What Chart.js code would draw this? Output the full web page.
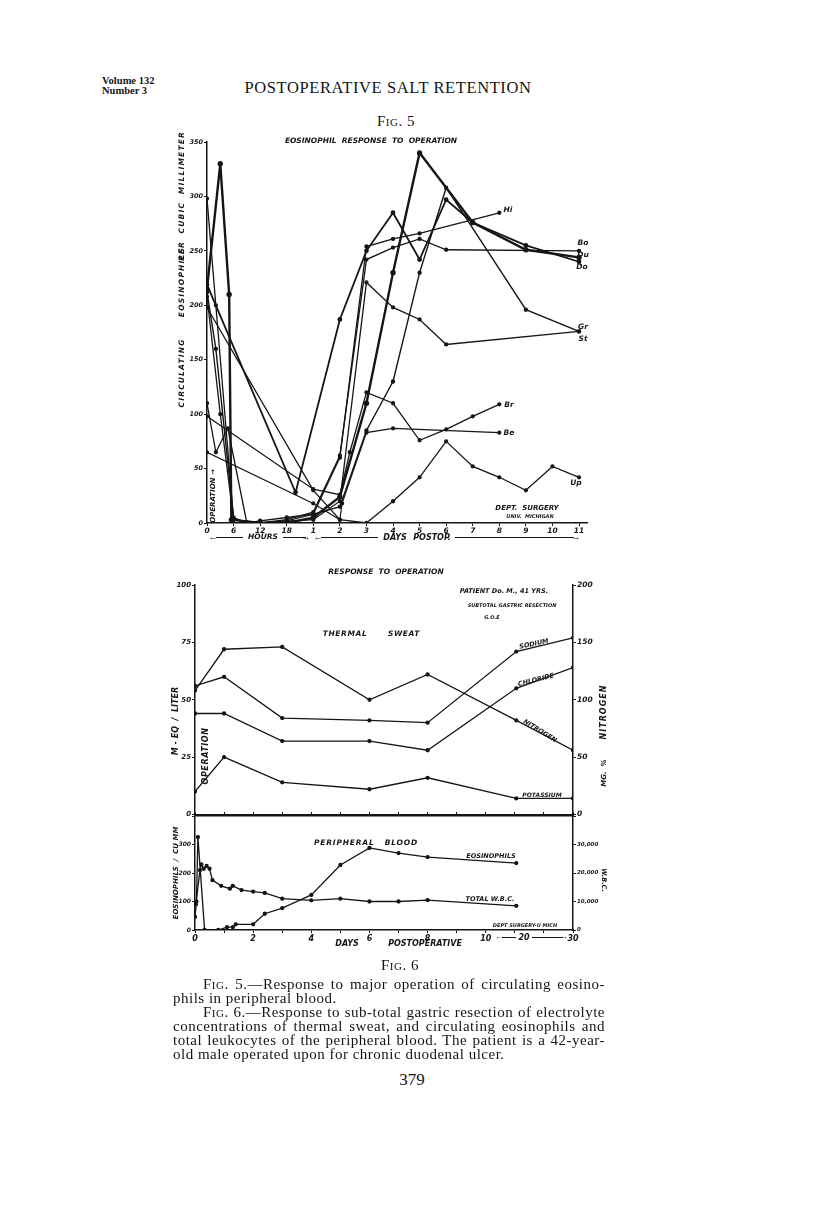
<!DOCTYPE html>
<html>
<head>
<meta charset="utf-8">
<script src="https://cdn.jsdelivr.net/npm/chart.js@4.4.0/dist/chart.umd.min.js"></script>
<style>
body { margin:0; width:816px; height:1205px; background:#fff; position:relative; overflow:hidden; }
canvas { position:absolute; }
.t { position:absolute; white-space:nowrap; line-height:1; color:#151515; }
.ln { position:absolute; background:#151515; height:1px; }
.sc { font-variant:small-caps; }
</style>
</head>
<body>
<canvas id="fig5" width="460" height="420" style="left:150px;top:130px"></canvas>
<canvas id="sweat" width="470" height="250" style="left:150px;top:570px"></canvas>
<canvas id="blood" width="470" height="150" style="left:150px;top:810px"></canvas>
<script>
// Fig 5 - [hours after operation, eosinophils per cu mm]
const hi = [[0,110],[2,65],[4.7,87],[9,0],[12,0],[18,2],[24,8],[48,60],[72,254],[96,261],[120,266],[192,285]];
const bo = [[0,208],[3,100],[6,3],[12,0],[18,3],[24,10],[48,62],[72,242],[96,253],[120,261],[144,251],[264,250]];
const du = [[0,215],[3,330],[5,210],[5.5,3],[12,0],[18,0],[24,5],[48,24],[72,110],[96,230],[120,340],[168,276],[216,251],[264,244]];
const doo = [[0,219],[20,28],[48,187],[72,250],[96,285],[120,242],[144,297],[168,276],[216,255],[264,240]];
const gr = [[0,212],[2,160],[6,5],[9,0],[12,2],[18,5],[24,8],[48,15],[72,85],[96,130],[120,230],[144,308],[216,196],[264,176]];
const st = [[0,298],[2,200],[6,3],[12,0],[24,3],[48,20],[72,221],[96,198],[120,187],[144,164],[264,176]];
const br = [[0,98],[24,31],[48,26],[57,65],[72,120],[96,110],[120,76],[144,86],[168,98],[192,109]];
const be = [[0,65],[24,18],[48,3],[50,18],[72,83],[96,87],[192,83]];
const up = [[0,198],[24,30],[48,3],[72,0],[96,20],[120,42],[144,75],[168,52],[192,42],[216,30],[240,52],[264,42]];
const fig5Ticks = ['0','6','12','18','1','2','3','4','5','6','7','8','9','10','11'];

// Fig 6 - thermal sweat (m-eq/liter, nitrogen mg %)
const sweatDays = [0, 1, 3, 6, 8, 17, 30];
const sodium = [56, 60, 42, 41, 40, 71, 77];
const chloride = [44, 44, 32, 32, 28, 55, 64];
const potassium = [10, 25, 14, 11, 16, 7, 7];
const nitrogen = [108, 144, 146, 100, 122, 82, 56];

// Fig 6 - peripheral blood
const eosDays = [0, 0.05, 0.1, 0.33, 0.8, 1.1, 1.3, 1.4, 2, 2.4, 3, 4, 5, 6, 7, 8, 17];
const eosCount = [46, 100, 326, 0, 0, 10, 10, 20, 20, 57, 77, 123, 228, 288, 270, 256, 235];
const wbcDays = [0.03, 0.17, 0.22, 0.3, 0.4, 0.5, 0.6, 0.9, 1.2, 1.3, 1.6, 2, 2.4, 3, 4, 5, 6, 7, 8, 17];
const wbcCount = [9000, 21000, 23000, 21500, 22500, 21500, 17500, 15500, 14500, 15500, 14000, 13500, 13000, 11000, 10400, 11000, 10000, 10000, 10500, 8500];
const fig6Ticks = ['0','','2','','4','','6','','8','','10','','','30'];

const INK = '#151515';
const G = 'font-family:"DejaVu Sans",sans-serif;font-style:italic;font-weight:bold;';
const S = 'font-family:"Liberation Serif","DejaVu Serif",serif;';

// hours of first day get 6h per step, then one step per day
function pos5(h) { return h <= 24 ? h / 6 : h / 24 + 3; }
// days 10..30 squeezed into 3 steps
function pos6(d) { return d <= 10 ? d : 10 + (d - 10) * 3 / 20; }

function lineSet(pts, width, axis) {
    return {
        data: pts.map(p => ({x: p[0], y: p[1]})),
        borderColor: INK, backgroundColor: INK, borderWidth: width,
        pointRadius: 1.5, pointHoverRadius: 0, tension: 0, fill: false,
        yAxisID: axis || 'y'
    };
}
function zip(xs, ys, conv) { return xs.map((x, i) => [conv(x), ys[i]]); }

function tickFont(size) { return {family: 'DejaVu Sans', size: size, style: 'italic', weight: 'bold'}; }

function yAxis(min, max, step, w, position, size, fmt) {
    return {
        type: 'linear', position: position, min: min, max: max,
        ticks: {stepSize: step, color: INK, font: tickFont(size), padding: 1, callback: fmt || (v => v)},
        grid: {display: true, drawOnChartArea: false, drawTicks: true, tickLength: 3, color: INK, lineWidth: 1},
        border: {display: true, color: INK, width: 1.5},
        afterFit: s => { s.width = w; }
    };
}

const base = {
    responsive: false, animation: false, devicePixelRatio: 1, events: [],
    plugins: {legend: {display: false}, tooltip: {enabled: false}}
};

// ---- Fig 5
const fig5Series = [[hi,1.3],[bo,1.3],[du,2.4],[doo,1.8],[gr,1.4],[st,1.3],[br,1.3],[be,1.2],[up,1.3]];
new Chart(document.getElementById('fig5'), {
    type: 'line',
    data: {datasets: fig5Series.map(s => lineSet(s[0].map(p => [pos5(p[0]), p[1]]), s[1]))},
    options: Object.assign({}, base, {
        layout: {padding: {top: 12, right: 23, left: 0, bottom: 0}},
        scales: {
            x: {
                type: 'linear', min: 0, max: 14.3,
                afterBuildTicks: s => { s.ticks = fig5Ticks.map((_, i) => ({value: i})); },
                ticks: {autoSkip: false, maxRotation: 0, color: INK, font: tickFont(7.5), padding: 1,
                        callback: v => fig5Ticks[v]},
                grid: {display: true, drawOnChartArea: false, drawTicks: true, tickLength: 3, color: INK},
                border: {display: true, color: INK, width: 1.5},
                afterFit: s => { s.height = 27; }
            },
            y: yAxis(0, 350, 50, 57, 'left', 6.5)
        }
    })
});

// ---- Fig 6, thermal sweat
new Chart(document.getElementById('sweat'), {
    type: 'line',
    data: {datasets: [
        lineSet(zip(sweatDays, sodium, pos6), 1.3),
        lineSet(zip(sweatDays, chloride, pos6), 1.3),
        lineSet(zip(sweatDays, potassium, pos6), 1.3),
        lineSet(zip(sweatDays, nitrogen, pos6), 1.3, 'y2')
    ]},
    options: Object.assign({}, base, {
        layout: {padding: {top: 15, right: 0, left: 0, bottom: 4}},
        scales: {
            x: {
                type: 'linear', min: 0, max: 13,
                ticks: {display: false},
                grid: {display: false},
                border: {display: true, color: INK, width: 1.5},
                afterFit: s => { s.height = 0; }
            },
            y: yAxis(0, 100, 25, 45, 'left', 7),
            y2: yAxis(0, 200, 50, 47, 'right', 7.5)
        }
    })
});

// ---- Fig 6, peripheral blood
new Chart(document.getElementById('blood'), {
    type: 'line',
    data: {datasets: [
        lineSet(zip(eosDays, eosCount, pos6), 1.3),
        lineSet(zip(wbcDays, wbcCount, pos6), 1.3, 'y2')
    ]},
    options: Object.assign({}, base, {
        layout: {padding: {top: 0, right: 0, left: 0, bottom: 0}},
        scales: {
            x: {
                type: 'linear', min: 0, max: 13,
                ticks: {stepSize: 1, autoSkip: false, maxRotation: 0, color: INK, font: tickFont(8), padding: 1,
                        callback: v => fig6Ticks[v]},
                grid: {display: true, drawOnChartArea: false, drawTicks: true, tickLength: 3, color: INK},
                border: {display: true, color: INK, width: 1.5},
                afterFit: s => { s.height = 30; }
            },
            xt: {
                type: 'linear', position: 'top', min: 0, max: 13,
                ticks: {display: false, stepSize: 1},
                grid: {display: true, drawOnChartArea: false, drawTicks: true, tickLength: 4, color: INK},
                border: {display: true, color: INK, width: 1.5},
                afterFit: s => { s.height = 6; }
            },
            y: yAxis(0, 400, 100, 45, 'left', 6, v => v === 400 ? '' : v),
            y2: yAxis(0, 40000, 10000, 47, 'right', 5.5, v => v === 40000 ? '' : v.toLocaleString('en-US'))
        }
    })
});

// ---- texts
function put(text, cx, cy, css, rot) {
    const d = document.createElement('div');
    d.className = 't';
    d.textContent = text;
    d.style.cssText += 'left:' + cx + 'px;top:' + cy + 'px;transform:translate(-50%,-50%) rotate(' + (rot || 0) + 'deg);' + (css || '');
    document.body.appendChild(d);
}
function para(html, x, cy, w, css) {
    const d = document.createElement('div');
    d.className = 't';
    d.innerHTML = html;
    d.style.cssText += 'left:' + x + 'px;top:' + (cy - 8) + 'px;' + (w ? 'width:' + w + 'px;text-align:justify;text-align-last:justify;' : '') + css;
    document.body.appendChild(d);
}
function line(x1, x2, y) {
    const d = document.createElement('div');
    d.className = 'ln';
    d.style.left = x1 + 'px'; d.style.top = y + 'px'; d.style.width = (x2 - x1) + 'px';
    document.body.appendChild(d);
}

// header
para('Volume 132', 102, 84, 0, S + 'font-size:10.5px;font-weight:bold;');
para('Number 3', 102, 94, 0, S + 'font-size:10.5px;font-weight:bold;');
put('POSTOPERATIVE SALT RETENTION', 388, 88, S + 'font-size:16.5px;letter-spacing:0.6px;');
put('Fig. 5', 396, 121, S + 'font-size:15px;font-variant:small-caps;letter-spacing:0.5px;');

// fig 5
put('EOSINOPHIL  RESPONSE  TO  OPERATION', 371, 141, G + 'font-size:7.5px;white-space:pre;');
put('CIRCULATING', 182, 373, G + 'font-size:7.5px;letter-spacing:1.2px;', -90);
put('EOSINOPHILS', 182, 282, G + 'font-size:7.5px;letter-spacing:1.2px;', -90);
put('PER  CUBIC  MILLIMETER', 182, 196, G + 'font-size:7.5px;letter-spacing:1.2px;white-space:pre;', -90);
put('OPERATION \u2192', 213, 496, G + 'font-size:7px;', -90);
put('Hi', 508, 210, G + 'font-size:7.5px;');
put('Bo', 583, 243, G + 'font-size:7.5px;');
put('Du', 583, 255, G + 'font-size:7.5px;');
put('Do', 582, 267, G + 'font-size:7.5px;');
put('Gr', 583, 327, G + 'font-size:7.5px;');
put('St', 583, 339, G + 'font-size:7.5px;');
put('Br', 509, 405, G + 'font-size:7.5px;');
put('Be', 509, 433, G + 'font-size:7.5px;');
put('Up', 576, 483, G + 'font-size:7.5px;');
put('DEPT.  SURGERY', 527, 508, G + 'font-size:7px;white-space:pre;');
put('UNIV.  MICHIGAN', 530, 516, G + 'font-size:5px;white-space:pre;');
put('\u2190', 213, 537, 'font-size:9px;');
line(216, 243, 537);
put('HOURS', 263, 537, G + 'font-size:7.5px;');
line(283, 306, 537);
put('\u2192', 306, 537, 'font-size:9px;');
put('\u2190', 318, 537, 'font-size:9px;');
line(321, 378, 537);
put('DAYS', 395, 538, G + 'font-size:8px;');
put('POSTOP.', 432, 538, G + 'font-size:8px;');
line(455, 574, 537);
put('\u2192', 576, 537, 'font-size:9px;');

// fig 6 top
put('RESPONSE  TO  OPERATION', 386, 572, G + 'font-size:7.5px;white-space:pre;');
put('PATIENT Do. M., 41 YRS.', 504, 591, G + 'font-size:6.5px;');
put('SUBTOTAL GASTRIC RESECTION', 512, 605, G + 'font-size:5px;');
put('G.O.E', 492, 617, G + 'font-size:5px;');
put('THERMAL', 345, 634, G + 'font-size:7.5px;letter-spacing:0.6px;');
put('SWEAT', 404, 634, G + 'font-size:7.5px;letter-spacing:0.6px;');
put('SODIUM', 534, 644, G + 'font-size:6.5px;', -12);
put('CHLORIDE', 536, 680, G + 'font-size:6.5px;', -14);
put('NITROGEN', 540, 731, G + 'font-size:6.5px;', 32);
put('POTASSIUM', 542, 795, G + 'font-size:6px;');
put('M - EQ  /  LITER', 176, 721, G + 'font-size:8px;white-space:pre;', -90);
put('OPERATION', 206, 756, G + 'font-size:8px;letter-spacing:0.6px;', -90);
put('NITROGEN', 604, 712, G + 'font-size:8px;letter-spacing:1px;', -90);
put('MG.  %', 604, 773, G + 'font-size:7px;white-space:pre;', -90);

// fig 6 bottom
put('EOSINOPHILS  /  CU MM', 176, 873, G + 'font-size:7px;white-space:pre;', -90);
put('W.B.C.', 604, 880, G + 'font-size:6.5px;', 90);
put('PERIPHERAL   BLOOD', 366, 843, G + 'font-size:7.5px;letter-spacing:0.8px;white-space:pre;');
put('EOSINOPHILS', 491, 856, G + 'font-size:6.5px;');
put('TOTAL W.B.C.', 490, 899, G + 'font-size:6.5px;');
put('DEPT SURGERY-U MICH', 525, 925, G + 'font-size:5px;');
put('DAYS', 347, 944, G + 'font-size:8px;');
put('POSTOPERATIVE', 425, 944, G + 'font-size:8px;');
put('\u2190', 499, 937, 'font-size:8px;');
line(502, 516, 937);
put('20', 524, 938, G + 'font-size:8px;');
line(532, 563, 937);
put('\u2192', 564, 937, 'font-size:8px;');
put('Fig. 6', 400, 965, S + 'font-size:15px;font-variant:small-caps;letter-spacing:0.5px;');

// caption
const cap = S + 'font-size:15px;letter-spacing:0.5px;';
para('<span class="sc">Fig.</span> 5.\u2014Response to major operation of circulating eosino-', 203, 985, 402, cap);
para('phils in peripheral blood.', 173, 999, 0, cap);
para('<span class="sc">Fig.</span> 6.\u2014Response to sub-total gastric resection of electrolyte', 203, 1013, 402, cap);
para('concentrations of thermal sweat, and circulating eosinophils and', 173, 1027, 432, cap);
para('total leukocytes of the peripheral blood.  The patient is a 42-year-', 173, 1041, 432, cap);
para('old male operated upon for chronic duodenal ulcer.', 173, 1055, 0, cap);
put('379', 412, 1079, S + 'font-size:17px;');
</script>
</body>
</html>
